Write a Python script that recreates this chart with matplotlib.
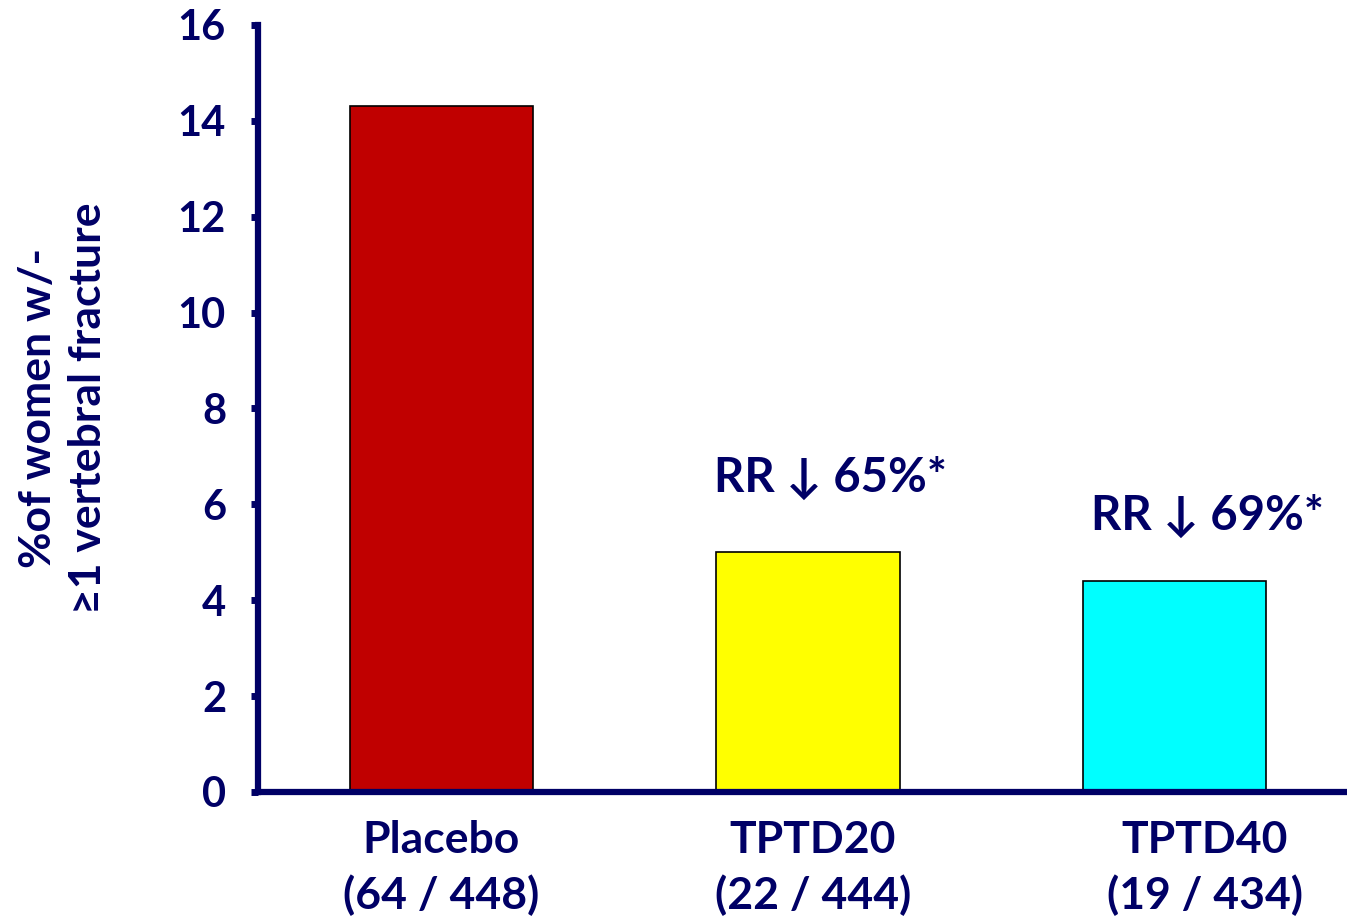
import matplotlib.pyplot as plt
from matplotlib.transforms import ScaledTranslation

plt.rcParams['font.family'] = ['Lato', 'DejaVu Sans']
plt.rcParams['font.weight'] = 'bold'

navy = '#000066'

groups = ['Placebo\n(64 / 448)', 'TPTD20\n(22 / 444)', 'TPTD40\n(19 / 434)']
pct = [14.3, 5.0, 4.4]
colors = ['#C00000', '#FFFF00', '#00FFFF']
rr_labels = ['', 'RR \u2193 65%*', 'RR \u2193 69%*']
yticks = [0, 2, 4, 6, 8, 10, 12, 14, 16]

fig = plt.figure(figsize=(13.47, 9.19), dpi=100)
ax = fig.add_axes([0.1915, 0.1382, 0.8085, 0.8346])

x = range(len(groups))
ax.bar(x, pct, width=0.5, color=colors, edgecolor='black', linewidth=1.2, zorder=2)

# relative risk reduction notes above the treatment bars
note_dx = [0, 0.06, 0.09]
note_dy = [0, 1.55, 1.35]
for i, (v, lab) in enumerate(zip(pct, rr_labels)):
    if lab:
        ax.text(i + note_dx[i], v + note_dy[i], lab, ha='center', va='center',
                fontsize=34, fontweight='bold', color=navy)

ax.set_xlim(-0.5, 2.47)
ax.set_ylim(0, 16)
ax.set_yticks(yticks)
ax.set_xticks(list(x))
ax.set_xticklabels(groups, fontsize=32, fontweight='bold', color=navy,
                   linespacing=1.42)
ax.tick_params(axis='x', length=0, pad=20)
ax.tick_params(axis='y', length=5, width=5, color=navy, direction='out',
               labelsize=30, labelcolor=navy, pad=18)

# nudge the treatment labels a little to the right
label_shift = [0, 0.05, 0.3]
for lab, dx in zip(ax.get_xticklabels(), label_shift):
    lab.set_transform(lab.get_transform() + ScaledTranslation(dx, 0, fig.dpi_scale_trans))

for s in ['top', 'right']:
    ax.spines[s].set_visible(False)
for s in ['left', 'bottom']:
    ax.spines[s].set_color(navy)
    ax.spines[s].set_linewidth(4.5)
    ax.spines[s].set_capstyle('projecting')

ax.set_ylabel('%of women w/-\n\u22651 vertebral fracture', fontsize=32,
              fontweight='bold', color=navy, linespacing=1.3, labelpad=50)

fig.savefig('out.png', dpi=100)
